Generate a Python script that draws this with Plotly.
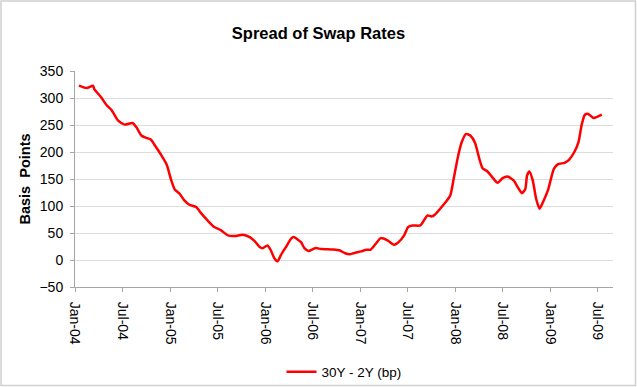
import plotly.graph_objects as go

# ---- data ----
dates = [
    "2004-01-16", "2004-02-15", "2004-03-10", "2004-03-15", "2004-04-11", "2004-05-01",
    "2004-05-20", "2004-06-15", "2004-07-10", "2004-08-09", "2004-08-24", "2004-09-13",
    "2004-10-02", "2004-10-18", "2004-11-03", "2004-11-29", "2004-12-18", "2005-01-05",
    "2005-01-18", "2005-02-06", "2005-02-24", "2005-03-15", "2005-04-10", "2005-04-29",
    "2005-05-24", "2005-06-19", "2005-07-15", "2005-08-10", "2005-09-05", "2005-10-07",
    "2005-11-02", "2005-11-21", "2005-12-10", "2005-12-23", "2006-01-09", "2006-01-22",
    "2006-02-04", "2006-02-17", "2006-03-01", "2006-03-21", "2006-04-10", "2006-04-19",
    "2006-05-05", "2006-05-18", "2006-05-31", "2006-06-16", "2006-07-01", "2006-07-14",
    "2006-08-03", "2006-08-28", "2006-09-20", "2006-10-12", "2006-11-01", "2006-11-20",
    "2006-12-09", "2007-01-04", "2007-01-24", "2007-02-09", "2007-03-01", "2007-03-20",
    "2007-04-15", "2007-05-10", "2007-05-25", "2007-06-18", "2007-07-03", "2007-07-20",
    "2007-08-19", "2007-09-04", "2007-09-16", "2007-10-01", "2007-10-14", "2007-10-31",
    "2007-11-19", "2007-12-12", "2007-12-25", "2008-01-10", "2008-01-25", "2008-02-11",
    "2008-02-28", "2008-03-16", "2008-04-02", "2008-04-14", "2008-05-03", "2008-05-22",
    "2008-06-11", "2008-06-30", "2008-07-19", "2008-08-12", "2008-08-27", "2008-09-12",
    "2008-09-25", "2008-10-02", "2008-10-11", "2008-10-24", "2008-11-06", "2008-11-19",
    "2008-12-01", "2008-12-21", "2009-01-13", "2009-01-29", "2009-02-23", "2009-03-12",
    "2009-04-01", "2009-04-18", "2009-04-29", "2009-05-12", "2009-05-25", "2009-06-14",
    "2009-06-30", "2009-07-16",
]
spread_bp = [
    323, 318.5, 322.7, 316.6, 301, 287,
    277.8, 258, 250.7, 253.8, 245.7, 230,
    226, 223, 212, 193, 176.8, 147,
    130.6, 122.6, 110.3, 102.3, 98, 86.8,
    73.3, 61, 54.9, 45.6, 44.3, 46.9,
    42.5, 35, 24, 22, 27, 18,
    3.7, -2.4, 8.7, 24, 39.5, 42.5,
    38, 33, 22, 16.6, 19.8, 22,
    20.3, 20, 19.5, 18, 13, 10.5,
    13, 16, 19, 19, 30, 40.6,
    36.4, 28.4, 32, 45.6, 61, 64,
    64, 75, 82.6, 80.7, 84, 93,
    104, 119.5, 150, 190, 218, 233.5,
    230, 217, 187, 170, 163.9, 153,
    143, 151.5, 154.6, 147, 135, 123.8,
    131, 156.5, 164, 147, 113, 95,
    106, 128.8, 168.8, 177.4, 180, 185.5,
    199.5, 219.3, 248.8, 269, 270.5, 263,
    265.5, 269,
]
series_name = "30Y - 2Y (bp)"

x_tick_vals = ["2004-01-01", "2004-07-01", "2005-01-01", "2005-07-01", "2006-01-01",
               "2006-07-01", "2007-01-01", "2007-07-01", "2008-01-01", "2008-07-01",
               "2009-01-01", "2009-07-01"]
x_tick_text = ["Jan-04", "Jul-04", "Jan-05", "Jul-05", "Jan-06", "Jul-06",
               "Jan-07", "Jul-07", "Jan-08", "Jul-08", "Jan-09", "Jul-09"]
y_ticks = [-50, 0, 50, 100, 150, 200, 250, 300, 350]
y_grid = [0, 50, 100, 150, 200, 250, 300]

FONT = "Liberation Sans, Arial, sans-serif"

fig = go.Figure()
# invisible trace to activate yaxis2 (grid lines)
fig.add_trace(go.Scatter(x=[dates[0]], y=[spread_bp[0]], yaxis="y2", mode="lines",
                         showlegend=False, hoverinfo="skip", line=dict(width=0)))
fig.add_trace(go.Scatter(
    x=dates, y=spread_bp, mode="lines", name=series_name,
    line=dict(color="#ff0000", width=2.5, shape="spline", smoothing=0.6),
    yaxis="y",
))

fig.update_layout(
    width=637, height=387,
    margin=dict(l=75, r=24, t=71, b=100, autoexpand=False),
    paper_bgcolor="white", plot_bgcolor="white",
    font=dict(family=FONT, size=14, color="#000000"),
    title=dict(text="<b>Spread of Swap Rates</b>", x=0.5, xref="container",
               y=1 - 33 / 387, yref="container", yanchor="middle",
               font=dict(size=16.5, family=FONT, color="#000000")),
    showlegend=True,
    legend=dict(orientation="h", x=0.5, xanchor="center",
                yref="container", y=15 / 387, yanchor="middle",
                font=dict(size=13.5, family=FONT), bgcolor="rgba(0,0,0,0)"),
    xaxis=dict(
        type="date", range=["2004-01-01", "2009-08-28"],
        tickvals=x_tick_vals, ticktext=x_tick_text, tickangle=90,
        ticks="outside", ticklen=4, tickcolor="#a6a6a6",
        ticklabelstandoff=7, automargin=False,
        showline=True, linecolor="#a6a6a6", linewidth=1,
        showgrid=False, zeroline=False,
        tickfont=dict(size=14, family=FONT),
    ),
    yaxis=dict(
        range=[-50, 350], tickvals=y_ticks,
        ticks="outside", ticklen=4, tickcolor="#a6a6a6",
        ticklabelstandoff=4, automargin=False,
        showline=True, linecolor="#a6a6a6", linewidth=1,
        showgrid=False, zeroline=False,
        tickfont=dict(size=14, family=FONT),
        title=dict(text="<b>Basis  Points</b>", font=dict(size=14.5, family=FONT), standoff=5),
    ),
    yaxis2=dict(
        range=[-50, 350], tickvals=y_grid, overlaying="y", side="left",
        showgrid=True, gridcolor="#dcdcdc", gridwidth=1, automargin=False,
        showticklabels=False, showline=False, zeroline=False, ticks="",
    ),
)

# outer chart border (paper coords relative to plot area 75..613 x 71..287)
fig.add_shape(type="rect", xref="paper", yref="paper",
              x0=(1 - 75) / 538, x1=(635.5 - 75) / 538,
              y0=(287 - 385.5) / 216, y1=(287 - 1) / 216,
              line=dict(color="#d0d0d0", width=1.5), fillcolor="rgba(0,0,0,0)", layer="below")

fig.write_html("out.html", config={"displayModeBar": False},
               post_script="document.body.style.margin='0';")
